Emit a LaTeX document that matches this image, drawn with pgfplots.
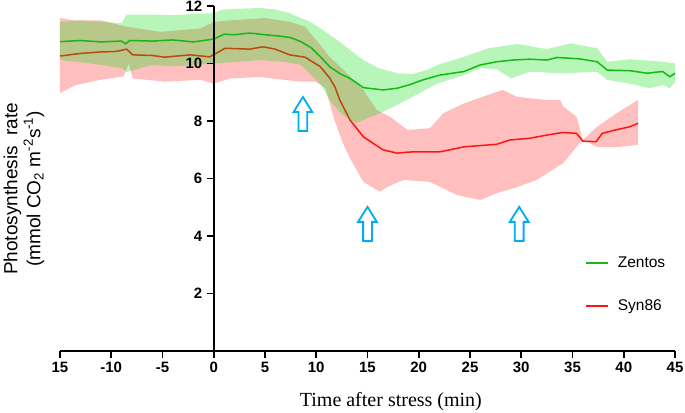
\documentclass[border=0pt]{standalone}
\usepackage{pgfplots}
\pgfplotsset{compat=1.18}
\usepackage{fontspec}
\setmainfont{Liberation Sans}
\newfontfamily\timesfont{Liberation Serif}
\usetikzlibrary{shapes.arrows}
\definecolor{zgreen}{RGB}{20,185,20}
\definecolor{zband}{RGB}{0,220,0}
\definecolor{sred}{RGB}{255,20,20}
\definecolor{arrowblue}{RGB}{0,174,239}
\begin{document}
\begin{tikzpicture}
\useasboundingbox (-60bp,-62bp) rectangle (625bp,351bp);
\begin{axis}[
  at={(0,0)}, anchor=south west,
  width=615bp, height=345bp, scale only axis,
  xmin=-15, xmax=45, ymin=0, ymax=12,
  axis x line=bottom, axis y line=left,
  x axis line style={-, line width=1.8bp},
  y axis line style={draw=none},
  tick align=outside,
  major tick length=7bp,
  tick style={line width=1.8bp, black},
  xtick={-15,-10,-5,0,5,10,15,20,25,30,35,40,45},
  xticklabels={15,-10,-5,0,5,10,15,20,25,30,35,40,45},
  ytick=\empty,
  ticklabel style={font=\fontsize{15bp}{18bp}\selectfont\bfseries},
  xticklabel style={anchor=north, yshift=-1bp},
  clip=false,
  xlabel={Time after stress (min)},
  every axis x label/.style={at={(axis description cs:0.538,0)}, anchor=base, yshift=-55bp, font=\timesfont\fontsize{20bp}{24bp}\selectfont},
  ylabel={Photosynthesis\ \ rate\\(mmol CO\textsubscript{2} m\textsuperscript{-2}s\textsuperscript{-1})},
  every axis y label/.style={at={(axis description cs:0,0.47)}, xshift=-36bp, rotate=90, anchor=center, align=center, font=\fontsize{19bp}{23bp}\selectfont},
  legend style={at={(axis cs:35.9,3.417)}, anchor=north west, draw=none, fill=none, font=\fontsize{15.5bp}{18bp}\selectfont, row sep=27bp, cells={anchor=west}},
  legend image code/.code={\path[draw=none, fill=none] (0bp,-1bp) rectangle (30bp,1bp); \draw[line width=1.8bp] (0bp,0bp) -- (22bp,0bp);},
  reverse legend,
]
% Syn86 band
\addplot[fill=red, fill opacity=0.25, draw=none, forget plot] coordinates {
(-15,11.58) (-13.5,11.5) (-11,11.5) (-8.5,11.28) (-5.2,11.1) (-1.3,11.22) (0.1,11.45) (1.6,11.5) (5,11.58) (7.4,11.45) (8.9,11.28) (10.4,10.64) (11.3,10.23) (12.3,9.9) (13,9.66) (14.6,9.08) (15.9,8.38) (17.2,8.15) (18.9,7.69) (21.1,7.75) (22.4,8.27) (24.4,8.61) (26.7,8.9) (28.2,9.08) (29.6,8.84) (32.5,8.73) (33.8,8.73) (34.1,8.5) (35.4,8.15) (36.0,7.34) (37.4,7.8) (39.3,8.27) (41.4,8.73)
(41.4,7.17) (39.6,7.1) (37.4,7.1) (36.0,7.34) (35.4,7.1) (34.1,6.54) (31.5,5.95) (29.6,5.7) (27.6,5.49) (26.0,5.25) (23.7,5.43) (21.1,5.88) (18.5,5.95) (16.9,5.7) (16.2,5.54) (14.6,5.88) (13.3,6.7) (12.6,7.23) (11.8,8.0) (11.3,8.63) (10.9,9.14) (9.9,9.37) (8.4,9.37) (4.5,9.53) (1.6,9.48) (0,9.3) (-1.3,9.43) (-4.8,9.37) (-7.9,9.48) (-8.3,10.0) (-8.8,9.55) (-11.1,9.43) (-13.5,9.25) (-15,8.97)
};
% Syn86 mean
\addplot[sred, line width=1.5bp] coordinates {
(-15,10.26) (-13,10.35) (-11.1,10.4) (-9.5,10.42) (-8.5,10.5) (-7.9,10.3) (-6,10.28) (-4.8,10.22) (-2.3,10.3) (-0.4,10.23) (1.1,10.53) (3.5,10.5) (4.8,10.58) (6,10.5) (7.4,10.3) (8.9,10.22) (10.4,9.89) (11.3,9.5) (11.8,9.2) (12.3,8.73) (13.3,8.03) (14.6,7.45) (16.5,7.0) (17.9,6.88) (19,6.92) (20.4,6.93) (22.1,6.93) (24.4,7.1) (27.6,7.19) (28.9,7.34) (30.8,7.4) (32.5,7.51) (34,7.6) (35.4,7.57) (36,7.3) (37.3,7.28) (37.9,7.57) (39.2,7.69) (40.6,7.8) (41.4,7.92)
};
\addlegendentry{Syn86}
% Zentos band
\addplot[fill=zband, fill opacity=0.28, draw=none, forget plot] coordinates {
(-15,11.45) (-13,11.5) (-11,11.45) (-9,11.4) (-8.5,11.7) (-6,11.7) (-4,11.68) (-2,11.72) (0,11.75) (0.7,11.86) (2,11.9) (4.5,11.93) (6,11.88) (7.4,11.75) (9.4,11.45) (10.5,11.2) (11.3,11.0) (12.3,10.75) (13.3,10.47) (14.6,10.12) (16,9.85) (17.9,9.66) (19.4,9.63) (21,9.8) (21.8,9.95) (24.4,10.23) (26.8,10.53) (29.6,10.68) (32.5,10.5) (34.8,10.7) (37.4,10.53) (38.4,10.06) (40.6,10.15) (43.8,10.06) (45,10.0)
(45,9.36) (44.5,9.14) (43.8,9.25) (42.5,9.14) (40.6,9.3) (38.4,9.43) (37.4,9.71) (34,9.66) (30.8,9.71) (29,9.48) (27.6,9.8) (26,9.84) (24.4,9.6) (21.8,9.3) (19.4,8.84) (17.9,8.56) (16.2,8.27) (13.9,7.93) (13.3,8.03) (12.3,8.3) (11.3,8.73) (10.4,9.3) (9.5,9.6) (8.5,9.95) (7,10.05) (4.5,10.12) (2,10.05) (0,10.0) (-2,9.95) (-4,9.9) (-6,9.95) (-8.5,9.7) (-9,9.84) (-12,10.0) (-15,10.12)
};
% Zentos mean
\addplot[zgreen, line width=1.5bp] coordinates {
(-15,10.76) (-13,10.8) (-11,10.75) (-9,10.78) (-8.6,10.68) (-8.2,10.8) (-6,10.78) (-4,10.82) (-2,10.75) (0,10.85) (1,11.02) (2,11.0) (3.5,11.06) (5,11.0) (6.5,10.95) (7.5,10.9) (8.5,10.76) (9.5,10.55) (10.5,10.2) (11.3,9.89) (12.3,9.65) (13.3,9.48) (14.6,9.16) (16.5,9.08) (17.9,9.14) (19,9.25) (20.4,9.43) (22.1,9.6) (24.4,9.72) (26,9.95) (27.6,10.06) (29.2,10.12) (30.8,10.15) (32.5,10.12) (33.5,10.21) (35.7,10.16) (37.4,10.06) (38.4,9.77) (40.6,9.75) (42.3,9.66) (43.2,9.7) (43.8,9.72) (44.5,9.54) (45,9.66)
};
\addlegendentry{Zentos}
% arrows
\node[single arrow, draw=arrowblue, line width=1.8bp, fill=white, rotate=90, minimum height=34bp, inner sep=3.5bp, single arrow head extend=5bp, single arrow tip angle=64, single arrow head indent=0] at (axis cs:8.7,8.12) {};
\node[single arrow, draw=arrowblue, line width=1.8bp, fill=white, rotate=90, minimum height=34bp, inner sep=3.5bp, single arrow head extend=5bp, single arrow tip angle=64, single arrow head indent=0] at (axis cs:15.0,4.3) {};
\node[single arrow, draw=arrowblue, line width=1.8bp, fill=white, rotate=90, minimum height=34bp, inner sep=3.5bp, single arrow head extend=5bp, single arrow tip angle=64, single arrow head indent=0] at (axis cs:29.8,4.3) {};
\end{axis}
\begin{axis}[
  at={(153.75bp,0)}, anchor=south west,
  width=461.25bp, height=345bp, scale only axis,
  xmin=0, xmax=45, ymin=0, ymax=12,
  axis x line=none, axis y line=left,
  y axis line style={-, line width=1.8bp},
  tick align=outside,
  major tick length=7bp,
  tick style={line width=1.8bp, black},
  ytick={2,4,6,8,10,12},
  yticklabels={2,4,6,8,10,12},
  yticklabel style={font=\fontsize{15bp}{18bp}\selectfont\bfseries, anchor=east, xshift=-1bp},
]
\end{axis}
\end{tikzpicture}
\end{document}
